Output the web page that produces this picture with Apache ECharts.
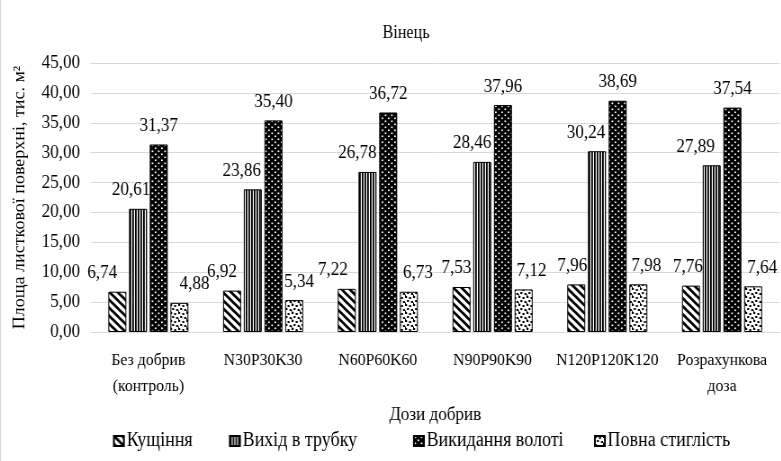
<!DOCTYPE html>
<html>
<head>
<meta charset="utf-8">
<script src="https://cdn.jsdelivr.net/npm/echarts@6/dist/echarts.min.js"></script>
<style>
  html, body { margin: 0; padding: 0; background: #fff; overflow: hidden; }
  #wrap { width: 781px; height: 461px; overflow: hidden; }
  /* the chart is laid out wider and narrowed horizontally for a condensed serif look */
  #chart { width: 868px; height: 461px; transform: scaleX(0.9); transform-origin: 0 0; }
</style>
</head>
<body>
<div id="wrap"><div id="chart"></div></div>
<script>
// Fertilizer doses (categories)
const categories = ['Без добрив\n(контроль)', 'N30P30K30', 'N60P60K60', 'N90P90K90', 'N120P120K120', 'Розрахункова\nдоза'];
// Leaf surface area by growth stage, thousand m²
const seriesNames = ['Кущіння', 'Вихід в трубку', 'Викидання волоті', 'Повна стиглість'];
const tillering = [6.74, 6.92, 7.22, 7.53, 7.96, 7.76];
const booting = [20.61, 23.86, 26.78, 28.46, 30.24, 27.89];
const panicle = [31.37, 35.40, 36.72, 37.96, 38.69, 37.54];
const ripeness = [4.88, 5.34, 6.73, 7.12, 7.98, 7.64];
const yMin = 0, yMax = 45, yStep = 5;

// Horizontal nudges of the value labels (screen px), one per bar
const nudgeTillering = [-15, -10, -14, -5, -4, -3];
const nudgeBooting = [-7, -11, -10, -10, -11, -16];
const nudgePanicle = [0, 0, 0, 0, 0, 0];
const nudgeRipeness = [15, 5, 9, 8, 8, 9];

const SX = 0.9; // horizontal squeeze applied through CSS
const FONT = '"Liberation Serif", "Times New Roman", serif';
const TXT = '#000';
const px = v => v / SX; // screen x -> chart x

function makeTile(w, h, draw) {
  const c = document.createElement('canvas');
  c.width = w; c.height = h;
  const ctx = c.getContext('2d');
  draw(ctx, w, h);
  return { image: c, repeat: 'repeat' };
}

// Wide diagonal stripes
const patDiag = makeTile(9, 8, (ctx, w, h) => {
  ctx.fillStyle = '#fff'; ctx.fillRect(0, 0, w, h);
  ctx.strokeStyle = '#000'; ctx.lineWidth = 2.8;
  ctx.beginPath();
  ctx.moveTo(-2, -2 * h / w); ctx.lineTo(w + 2, h + 2 * h / w);
  ctx.moveTo(-2, h - 2 * h / w); ctx.lineTo(2, h + 2 * h / w);
  ctx.moveTo(w - 2, -2 * h / w); ctx.lineTo(w + 2, 2 * h / w);
  ctx.stroke();
});
// Narrow vertical stripes
const patVert = makeTile(3.4, 4, (ctx, w, h) => {
  ctx.fillStyle = '#fff'; ctx.fillRect(0, 0, 4, h);
  ctx.fillStyle = '#000'; ctx.fillRect(0, 0, 1.8, h);
});
// Dark with small white dots
const patDark = makeTile(7, 6, (ctx, w, h) => {
  ctx.fillStyle = '#000'; ctx.fillRect(0, 0, w, h);
  ctx.fillStyle = '#fff';
  ctx.fillRect(0.5, 0.5, 1.8, 1.6);
  ctx.fillRect(4, 3.5, 1.8, 1.6);
});
// Light with black confetti
const patConf = makeTile(9, 8, (ctx, w, h) => {
  ctx.fillStyle = '#fff'; ctx.fillRect(0, 0, w, h);
  ctx.fillStyle = '#000';
  ctx.fillRect(0, 0, 2.2, 2);
  ctx.fillRect(4.5, 1, 2.2, 2);
  ctx.fillRect(2.2, 4, 2.2, 2);
  ctx.fillRect(6.7, 5, 2.2, 2);
  ctx.fillRect(0, 6.5, 1, 1.5);
});

const fmt = v => v.toFixed(2).replace('.', ',');

function barSeries(name, values, nudges, pattern) {
  return {
    name: name,
    type: 'bar',
    data: values.map((v, i) => ({ value: v, label: { offset: [px(nudges[i]), 0] } })),
    barWidth: px(18),
    barGap: '15%',
    itemStyle: { color: pattern, borderColor: '#000', borderWidth: 1 },
    label: {
      show: true,
      position: 'top',
      distance: 9,
      fontFamily: FONT,
      fontSize: 19,
      color: TXT,
      formatter: p => fmt(p.value)
    }
  };
}

const legendMarkX = [113, 229, 413, 594];

const chart = echarts.init(document.getElementById('chart'));
chart.setOption({
  animation: false,
  backgroundColor: '#fff',
  legend: seriesNames.map((n, i) => ({
    data: [n],
    left: px(legendMarkX[i]) - 5,
    top: 426,
    itemWidth: px(10),
    itemHeight: 10,
    itemGap: 4,
    icon: 'rect',
    textStyle: { fontFamily: FONT, fontSize: 20, color: TXT, padding: [0, 0, 0, -2] }
  })),
  grid: { left: px(91), right: 2, top: 63, bottom: 129 },
  xAxis: {
    type: 'category',
    data: categories,
    name: 'Дози добрив',
    nameLocation: 'middle',
    nameGap: 74,
    nameTextStyle: { fontFamily: FONT, fontSize: 19, color: TXT },
    axisLine: { lineStyle: { color: '#d9d9d9', width: 1 } },
    axisTick: { show: false },
    axisLabel: { fontFamily: FONT, fontSize: 17.5, color: TXT, margin: 15, lineHeight: 26, interval: 0 }
  },
  yAxis: {
    type: 'value',
    min: yMin,
    max: yMax,
    interval: yStep,
    name: 'Площа листкової поверхні, тис. м²',
    nameLocation: 'middle',
    nameGap: 70,
    nameTextStyle: { fontFamily: FONT, fontSize: 18, color: TXT },
    axisLine: { show: false },
    axisTick: { show: false },
    splitLine: { lineStyle: { color: '#d9d9d9', width: 1 } },
    axisLabel: { fontFamily: FONT, fontSize: 19, color: TXT, margin: 12, formatter: v => fmt(v) }
  },
  series: [
    barSeries(seriesNames[0], tillering, nudgeTillering, patDiag),
    barSeries(seriesNames[1], booting, nudgeBooting, patVert),
    barSeries(seriesNames[2], panicle, nudgePanicle, patDark),
    barSeries(seriesNames[3], ripeness, nudgeRipeness, patConf)
  ],
  graphic: [
    {
      type: 'text',
      x: px(406),
      y: 33,
      style: { text: 'Вінець', font: '18px ' + FONT, fill: TXT, align: 'center', verticalAlign: 'middle' }
    },
    {
      type: 'line',
      shape: { x1: 0.6, y1: 0, x2: 0.6, y2: 461 },
      style: { stroke: '#d9d9d9', lineWidth: 1.1 }
    }
  ]
});
</script>
</body>
</html>
